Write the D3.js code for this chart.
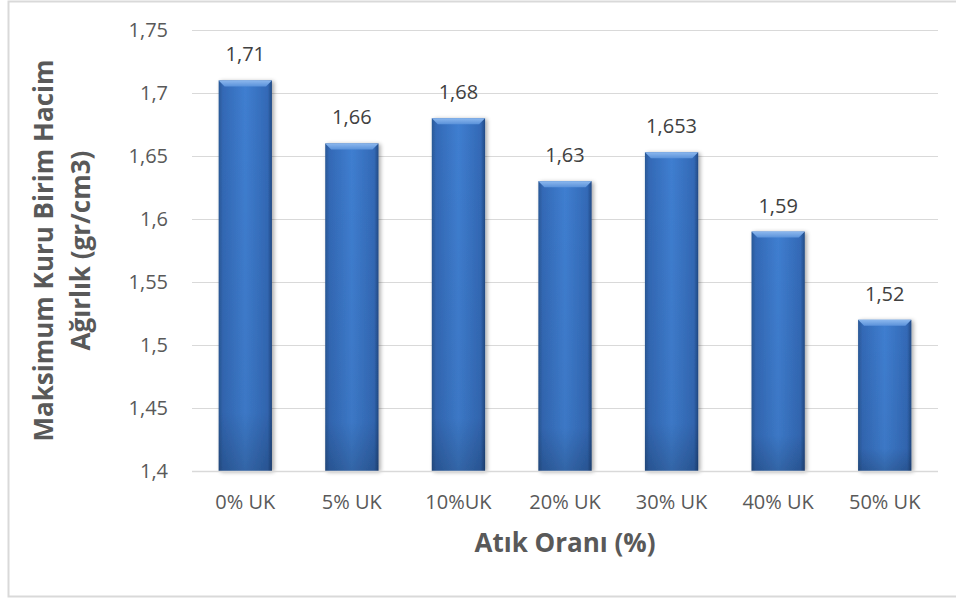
<!DOCTYPE html>
<html>
<head>
<meta charset="utf-8">
<script src="https://cdn.jsdelivr.net/npm/d3@7/dist/d3.min.js"></script>
<style>
  html, body { margin: 0; padding: 0; background: #fff; }
  svg { display: block; font-family: "Open Sans", "Noto Sans", sans-serif; }
</style>
</head>
<body>
<svg id="chart" width="956" height="598"></svg>
<script>
// Maximum dry unit weight per waste ratio
const categories = ["0% UK", "5% UK", "10%UK", "20% UK", "30% UK", "40% UK", "50% UK"];
const values = [1.71, 1.66, 1.68, 1.63, 1.653, 1.59, 1.52];
const valueLabels = ["1,71", "1,66", "1,68", "1,63", "1,653", "1,59", "1,52"];
const yTicks = [1.4, 1.45, 1.5, 1.55, 1.6, 1.65, 1.7, 1.75];
const yTickLabels = ["1,4", "1,45", "1,5", "1,55", "1,6", "1,65", "1,7", "1,75"];

const svg = d3.select("#chart");
const plot = { left: 192, right: 938, top: 30, bottom: 471 };
const textColor = "#595959";

// chart frame
svg.append("rect")
  .attr("x", 8.5).attr("y", 1.5)
  .attr("width", 960).attr("height", 595)
  .attr("fill", "#fff").attr("stroke", "#d9d9d9").attr("stroke-width", 2);

const x = d3.scaleBand().domain(categories).range([plot.left, plot.right]).paddingInner(0.5).paddingOuter(0.25);
const y = d3.scaleLinear().domain([1.4, 1.75]).range([plot.bottom, plot.top]);

const defs = svg.append("defs");
const body = defs.append("linearGradient").attr("id", "barBody").attr("x1", 0).attr("x2", 1).attr("y1", 0).attr("y2", 0);
[[0, "#2a5896"], [0.08, "#3369b6"], [0.5, "#3f7ed0"], [0.92, "#3369b6"], [1, "#224a85"]]
  .forEach(([o, c]) => body.append("stop").attr("offset", o).attr("stop-color", c));
const shade = defs.append("linearGradient").attr("id", "barShade").attr("x1", 0).attr("x2", 0).attr("y1", 0).attr("y2", 1);
[[0, "#000", 0], [0.85, "#000", 0.05], [1, "#000", 0.2]]
  .forEach(([o, c, a]) => shade.append("stop").attr("offset", o).attr("stop-color", c).attr("stop-opacity", a));
const bevel = defs.append("linearGradient").attr("id", "barBevel").attr("x1", 0).attr("x2", 0).attr("y1", 0).attr("y2", 1);
[[0, "#8cb8ee"], [1, "#5b92da"]]
  .forEach(([o, c]) => bevel.append("stop").attr("offset", o).attr("stop-color", c));
const shadow = defs.append("filter").attr("id", "barShadow").attr("x", "-20%").attr("y", "-10%").attr("width", "150%").attr("height", "130%");
shadow.append("feGaussianBlur").attr("in", "SourceAlpha").attr("stdDeviation", 2);
shadow.append("feOffset").attr("dx", 2).attr("dy", 1).attr("result", "b");
shadow.append("feComponentTransfer").append("feFuncA").attr("type", "linear").attr("slope", 0.35);
const merge = shadow.append("feMerge");
merge.append("feMergeNode");
merge.append("feMergeNode").attr("in", "SourceGraphic");

// gridlines
svg.append("g").selectAll("line").data(yTicks.slice(1)).join("line")
  .attr("x1", plot.left).attr("x2", plot.right)
  .attr("y1", d => Math.round(y(d)) + 0.5).attr("y2", d => Math.round(y(d)) + 0.5)
  .attr("stroke", "#d9d9d9").attr("stroke-width", 1);

// y tick labels
svg.append("g").selectAll("text").data(yTicks).join("text")
  .attr("x", 168).attr("y", d => y(d)).attr("dy", "0.35em")
  .attr("text-anchor", "end").attr("fill", textColor).attr("font-size", 20)
  .text((d, i) => yTickLabels[i]);

// bars
const bw = x.bandwidth();
const bars = svg.append("g").selectAll("g").data(values).join("g")
  .attr("filter", "url(#barShadow)");
bars.append("rect")
  .attr("x", (d, i) => x(categories[i])).attr("y", d => y(d))
  .attr("width", bw).attr("height", d => y(1.4) - y(d))
  .attr("fill", "url(#barBody)");
bars.append("rect")
  .attr("x", (d, i) => x(categories[i])).attr("y", d => y(d))
  .attr("width", bw).attr("height", d => y(1.4) - y(d))
  .attr("fill", "url(#barShade)");
bars.append("path")
  .attr("d", (d, i) => {
    const x0 = x(categories[i]), y0 = y(d), b = 6;
    return `M${x0},${y0}L${x0 + bw},${y0}L${x0 + bw - b},${y0 + b}L${x0 + b},${y0 + b}Z`;
  })
  .attr("fill", "url(#barBevel)");

// x axis line
svg.append("line")
  .attr("x1", plot.left).attr("x2", plot.right)
  .attr("y1", plot.bottom + 0.5).attr("y2", plot.bottom + 0.5)
  .attr("stroke", "#d9d9d9").attr("stroke-width", 1.5);

// value labels
svg.append("g").selectAll("text").data(values).join("text")
  .attr("x", (d, i) => x(categories[i]) + bw / 2).attr("y", d => y(d) - 19)
  .attr("text-anchor", "middle").attr("fill", "#404040").attr("font-size", 20)
  .text((d, i) => valueLabels[i]);

// x tick labels
svg.append("g").selectAll("text").data(categories).join("text")
  .attr("x", d => x(d) + bw / 2).attr("y", 509)
  .attr("text-anchor", "middle").attr("fill", textColor).attr("font-size", 20)
  .text(d => d);

// axis titles
svg.append("text")
  .attr("x", (plot.left + plot.right) / 2).attr("y", 552)
  .attr("text-anchor", "middle").attr("fill", textColor)
  .attr("font-size", 26).attr("font-weight", "bold")
  .text("Atık Oranı (%)");

const yt = svg.append("text")
  .attr("transform", `translate(0,${(plot.top + plot.bottom) / 2}) rotate(-90)`)
  .attr("text-anchor", "middle").attr("fill", textColor)
  .attr("font-size", 26).attr("font-weight", "bold");
yt.append("tspan").attr("x", 0).attr("y", 53).text("Maksimum Kuru Birim Hacim");
yt.append("tspan").attr("x", 0).attr("y", 90).text("Ağırlık (gr/cm3)");
</script>
</body>
</html>
